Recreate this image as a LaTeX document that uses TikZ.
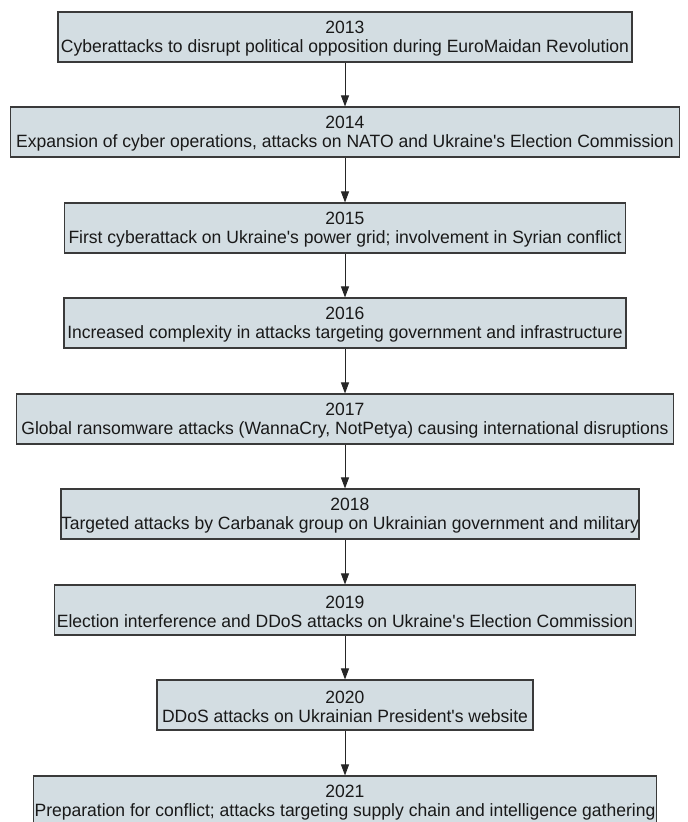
\documentclass[tikz,border=0pt]{standalone}
\usepackage{fontspec}
\newfontfamily\evfont{Liberation Sans}[FakeStretch=0.985]
\usetikzlibrary{arrows.meta}
\definecolor{boxfill}{HTML}{D3DDE2}
\definecolor{boxline}{HTML}{3A3A3A}
\newcommand{\topstrut}{\rule{0pt}{15.5pt}}
\tikzset{
  event/.style={draw=boxline, fill=boxfill, line width=1.1pt, minimum height=50pt,
    inner sep=0pt, align=center, font=\evfont\fontsize{17.8}{19}\selectfont, text=black!90},
  link/.style={draw=black!85, line width=1pt, -{Triangle[length=11pt,width=8pt]}}
}
\begin{document}
\begin{tikzpicture}[x=1pt,y=-1pt]
\useasboundingbox (0,0) rectangle (688,822);
\fill[white] (0,0) rectangle (688,822);
\node[event, minimum width=574pt] (e13) at (345,37) {\topstrut 2013\\Cyberattacks to disrupt political opposition during EuroMaidan Revolution};
\node[event, minimum width=669pt] (e14) at (345,132) {\topstrut 2014\\Expansion of cyber operations, attacks on NATO and Ukraine's Election Commission};
\node[event, minimum width=561pt] (e15) at (345,228) {\topstrut 2015\\First cyberattack on Ukraine's power grid; involvement in Syrian conflict};
\node[event, minimum width=562pt] (e16) at (345,323) {\topstrut 2016\\Increased complexity in attacks targeting government and infrastructure};
\node[event, minimum width=657pt] (e17) at (345,419) {\topstrut 2017\\Global ransomware attacks (WannaCry, NotPetya) causing international disruptions};
\node[event, minimum width=573pt] (e18) at (350,514) {\topstrut 2018\\Targeted attacks by Carbanak group on Ukrainian government and military};
\node[event, minimum width=581pt] (e19) at (345,610) {\topstrut 2019\\Election interference and DDoS attacks on Ukraine's Election Commission};
\node[event, minimum width=376pt] (e20) at (345,705) {\topstrut 2020\\DDoS attacks on Ukrainian President's website};
\node[event, minimum width=623pt] (e21) at (345,801) {\topstrut 2021\\Preparation for conflict; attacks targeting supply chain and intelligence gathering};
\draw[link] (e13.south) -- (e14.north);
\draw[link] (e14.south) -- (e15.north);
\draw[link] (e15.south) -- (e16.north);
\draw[link] (e16.south) -- (e17.north);
\draw[link] (e17.south) -- (e18.north -| e17.south);
\draw[link] (e18.south -| e17.south) -- (e19.north);
\draw[link] (e19.south) -- (e20.north);
\draw[link] (e20.south) -- (e21.north);
\end{tikzpicture}
\end{document}
